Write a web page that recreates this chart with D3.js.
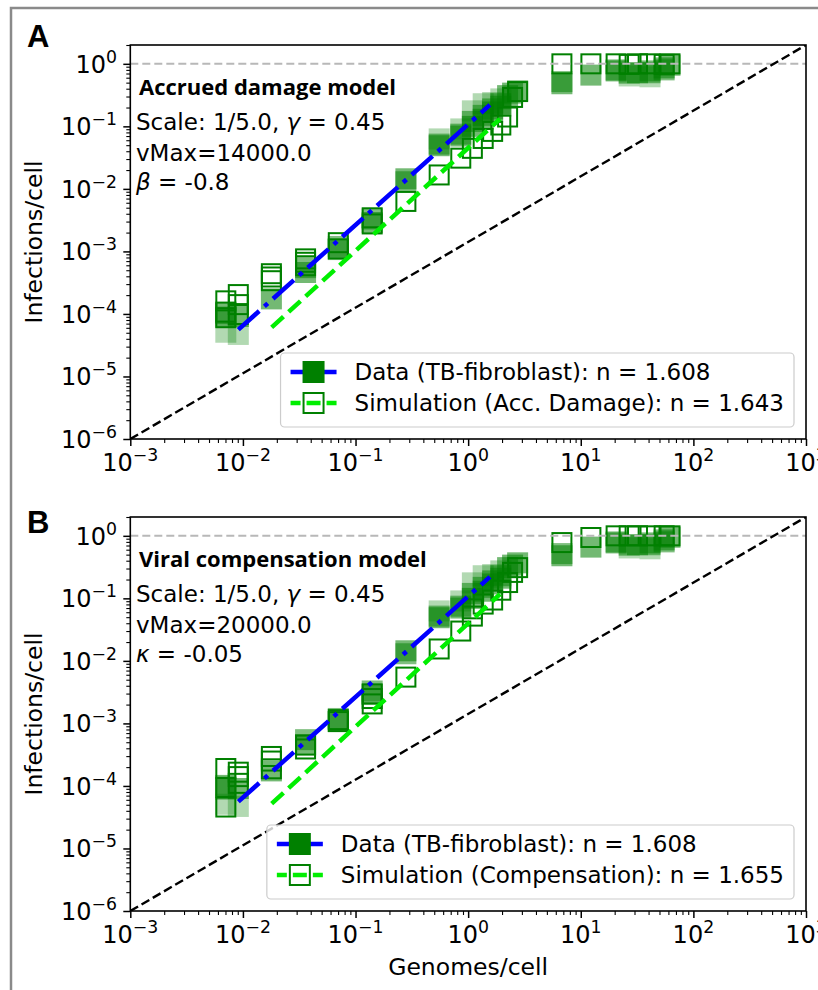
<!DOCTYPE html>
<html>
<head>
<meta charset="utf-8">
<script src="https://cdnjs.cloudflare.com/ajax/libs/d3/7.8.5/d3.min.js"></script>
<style>
body { margin: 0; background: #fff; }
svg text { font-family: "DejaVu Sans", sans-serif; fill: #000; }
</style>
</head>
<body>
<div class="chart"></div>
<script>
// genomes/cell of each column of squares
var genomes = [0.00705, 0.0091, 0.0179, 0.036, 0.0703, 0.1406, 0.28, 0.553, 0.86, 1.09, 1.36, 1.65, 1.95, 2.24, 2.48, 2.75,
               6.8, 12.3, 20.6, 26.9, 31.9, 41.2, 55, 62];

// measured infections/cell (TB-fibroblast), three replicates
var dataRep1 = [1.02e-4, 9.1e-5, 1.74e-4, 4.6e-4, 1.07e-3, 2.9e-3, 1.45e-2, 0.049, 0.07, 0.1, 0.13, 0.17, 0.21, 0.31, 0.34, 0.37,
                0.48, 0.66, 0.77, 0.71, 0.72, 0.77, 0.86, 0.95];
var dataRep2 = [8.9e-5, null, null, 5.5e-4, 1.2e-3, 3.3e-3, 1.3e-2, 0.052, 0.075, 0.12, 0.15, 0.19, 0.23, null, null, null,
                0.52, null, 0.8, null, null, 0.72, 0.8, null];
var dataRep3 = [5.1e-5, 4.7e-5, null, null, null, null, null, 0.063, 0.091, 0.177, 0.23, 0.24, 0.275, null, null, null,
                null, null, null, 0.64, null, 0.62, null, null];

// simulation, accrued damage model
var simDamage1 = [1.62e-4, 2.04e-4, 4.4e-4, 7.6e-4, 1.38e-3, 3.45e-3, 6.3e-3, 0.0167, 0.031, 0.0445, 0.064, 0.083, 0.105, 0.141, 0.29, 0.36,
                  1.0, 1.0, 1.0, 0.98, 1.0, 1.0, 0.98, 1.0];
var simDamage2 = [1.07e-4, 1.41e-4, 3.9e-4, 5.9e-4, 1.1e-3, 2.75e-3, null, null, null, null, null, null, null, null, null, null,
                  null, null, null, null, null, null, null, null];
var simDamage3 = [8.7e-5, 9.8e-5, 3.4e-4, 6.7e-4, null, null, null, null, null, null, null, null, null, null, null, null,
                  null, null, null, null, null, null, null, null];

// simulation, viral compensation model
var simComp1 = [1.9e-4, 1.66e-4, 2.96e-4, 4.5e-4, 1.15e-3, 2.97e-3, 5.5e-3, 0.0155, 0.030, 0.068, 0.081, 0.094, 0.135, 0.179, 0.26, 0.31,
                0.78, 0.94, 1.0, 1.0, 1.0, 1.0, 1.0, 1.0];
var simComp2 = [9.5e-5, 1.41e-4, 2.5e-4, 3.9e-4, 1.07e-3, 2.5e-3, null, null, null, 0.052, null, null, null, null, null, null,
                null, null, null, null, null, null, null, null];
var simComp3 = [4.6e-5, 1.1e-4, 1.88e-4, null, null, 2.05e-3, null, null, null, null, null, null, null, null, null, null,
                null, null, null, null, null, null, null, null];

// power-law fits, end points [genomes, infections]
var dataFit = [[0.0091, 5.6e-5], [1.56, 0.22]];
var damageFit = [[0.018, 6.1e-5], [1.92, 0.132]];
var compFit = [[0.018, 5.2e-5], [1.92, 0.117]];

var xTickExps = [-3, -2, -1, 0, 1, 2, 3];
var yTickExps = [-6, -5, -4, -3, -2, -1, 0];

var panels = [
    { letter: "A", letterY: 47, top: 45, title: "Accrued damage model",
      params: [["Scale: 1/5.0, ", "γ", " = 0.45"], ["vMax=14000.0", "", ""], ["", "β", " = -0.8"]],
      sims: [simDamage1, simDamage2, simDamage3], simFit: damageFit,
      legend: ["Data (TB-fibroblast): n = 1.608", "Simulation (Acc. Damage): n = 1.643"], xLabel: false },
    { letter: "B", letterY: 533, top: 517, title: "Viral compensation model",
      params: [["Scale: 1/5.0, ", "γ", " = 0.45"], ["vMax=20000.0", "", ""], ["", "κ", " = -0.05"]],
      sims: [simComp1, simComp2, simComp3], simFit: compFit,
      legend: ["Data (TB-fibroblast): n = 1.608", "Simulation (Compensation): n = 1.655"], xLabel: true }
];

var dataAlpha = [0.55, 0.5, 0.3];
var green = "#008000";
var W = 818, H = 990;
var left = 130.3, right = 806, plotH = 394;
var sq = 21;
var tickFont = 24;

var svg = d3.select("div.chart").append("svg")
    .attr("width", W)
    .attr("height", H);

// grey frame of the figure
svg.append("rect")
    .attr("x", 11).attr("y", 8)
    .attr("width", 900).attr("height", 1100)
    .attr("fill", "none")
    .attr("stroke", "#8a8a8a")
    .attr("stroke-width", 2.5);

var x = d3.scaleLog().domain([1e-3, 1e3]).range([left, right]);

panels.forEach(drawPanel);

function isDecade(v) {
    var l = Math.log10(v);
    return Math.abs(l - Math.round(l)) < 1e-9;
}

function points(rep) {
    return genomes.map((g, i) => [g, rep[i]]).filter(d => d[1] != null);
}

function powLabel(sel, e, size) {
    sel.append("tspan").text("10");
    sel.append("tspan")
        .attr("dy", -10)
        .attr("font-size", size * 0.72)
        .text(e < 0 ? "\u2212" + (-e) : e);
}

function drawPanel(p, pi) {
    var top = p.top, bottom = p.top + plotH;
    var y = d3.scaleLog().domain([1e-6, 2]).range([bottom, top]);
    var g = svg.append("g");

    var clipId = "clip" + pi;
    g.append("clipPath").attr("id", clipId)
        .append("rect")
        .attr("x", left).attr("y", top)
        .attr("width", right - left).attr("height", plotH);

    var plot = g.append("g").attr("clip-path", "url(#" + clipId + ")");

    // filled squares: data
    [dataRep1, dataRep2, dataRep3].forEach((rep, r) => {
        plot.append("g").selectAll("rect")
            .data(points(rep))
            .enter()
            .append("rect")
            .attr("x", d => x(d[0]) - sq / 2)
            .attr("y", d => y(d[1]) - sq / 2)
            .attr("width", sq).attr("height", sq)
            .attr("fill", green)
            .attr("fill-opacity", dataAlpha[r]);
    });

    // open squares: simulation
    p.sims.forEach(rep => {
        plot.append("g").selectAll("rect")
            .data(points(rep))
            .enter()
            .append("rect")
            .attr("x", d => x(d[0]) - (sq - 2) / 2)
            .attr("y", d => y(d[1]) - (sq - 2) / 2)
            .attr("width", sq - 2).attr("height", sq - 2)
            .attr("fill", "none")
            .attr("stroke", green)
            .attr("stroke-width", 2);
    });

    var line = d3.line().x(d => x(d[0])).y(d => y(d[1]));

    // y = 1 reference
    plot.append("path")
        .attr("d", line([[1e-3, 1], [1e3, 1]]))
        .attr("stroke", "#b8b8b8").attr("stroke-width", 2)
        .attr("stroke-dasharray", "8,4").attr("fill", "none");

    // diagonal of the axes
    plot.append("path")
        .attr("d", line([[x.domain()[0], y.domain()[0]], [x.domain()[1], y.domain()[1]]]))
        .attr("stroke", "#000").attr("stroke-width", 2.4)
        .attr("stroke-dasharray", "9,4").attr("fill", "none");

    plot.append("path")
        .attr("d", line(dataFit))
        .attr("stroke", "#0000ff").attr("stroke-width", 4.5)
        .attr("stroke-dasharray", "28,7,4.5,7").attr("fill", "none");

    plot.append("path")
        .attr("d", line(p.simFit))
        .attr("stroke", "#00ee00").attr("stroke-width", 4.5)
        .attr("stroke-dasharray", "16,7").attr("fill", "none");

    // axes ticks
    var minorX = x.ticks().filter(v => !isDecade(v));
    var minorY = y.ticks().filter(v => !isDecade(v));
    var majorX = xTickExps.map(e => Math.pow(10, e));
    var majorY = yTickExps.map(e => Math.pow(10, e));

    function styleAxis(sel, w) {
        sel.select(".domain").remove();
        sel.selectAll(".tick line").attr("stroke", "#000").attr("stroke-width", w);
    }

    g.append("g").attr("transform", "translate(0," + bottom + ")")
        .call(d3.axisBottom(x).tickValues(minorX).tickSize(4).tickFormat(""))
        .call(s => styleAxis(s, 1.1));
    g.append("g").attr("transform", "translate(0," + bottom + ")")
        .call(d3.axisBottom(x).tickValues(majorX).tickSize(7).tickFormat(""))
        .call(s => styleAxis(s, 1.5));
    g.append("g").attr("transform", "translate(" + left + ",0)")
        .call(d3.axisLeft(y).tickValues(minorY).tickSize(4).tickFormat(""))
        .call(s => styleAxis(s, 1.1));
    g.append("g").attr("transform", "translate(" + left + ",0)")
        .call(d3.axisLeft(y).tickValues(majorY).tickSize(7).tickFormat(""))
        .call(s => styleAxis(s, 1.5));

    g.append("rect")
        .attr("x", left).attr("y", top)
        .attr("width", right - left).attr("height", plotH)
        .attr("fill", "none").attr("stroke", "#000").attr("stroke-width", 1.6);

    xTickExps.forEach(e => {
        g.append("text")
            .attr("x", x(Math.pow(10, e)))
            .attr("y", bottom + 32)
            .attr("text-anchor", "middle")
            .attr("font-size", tickFont)
            .call(s => powLabel(s, e, tickFont));
    });
    yTickExps.forEach(e => {
        g.append("text")
            .attr("x", 117)
            .attr("y", y(Math.pow(10, e)) + 9)
            .attr("text-anchor", "end")
            .attr("font-size", tickFont)
            .call(s => powLabel(s, e, tickFont));
    });

    g.append("text")
        .attr("transform", "translate(42," + (top + plotH / 2) + ") rotate(-90)")
        .attr("text-anchor", "middle")
        .attr("font-size", 23.5)
        .text("Infections/cell");

    if (p.xLabel) {
        g.append("text")
            .attr("x", (left + right) / 2)
            .attr("y", bottom + 64)
            .attr("text-anchor", "middle")
            .attr("font-size", 23.5)
            .text("Genomes/cell");
    }

    // panel letter
    g.append("text")
        .attr("x", 27).attr("y", p.letterY)
        .style("font-family", "'Liberation Sans', Arial, sans-serif")
        .attr("font-weight", "bold")
        .attr("font-size", 31)
        .text(p.letter);

    // model annotation
    g.append("text")
        .attr("x", 139).attr("y", top + 50)
        .style("font-family", "'Open Sans', sans-serif")
        .attr("font-weight", "bold")
        .attr("font-size", 22)
        .text(p.title);

    var paramY = [85, 116, 145];
    p.params.forEach((ln, i) => {
        var t = g.append("text")
            .attr("x", 136).attr("y", top + paramY[i])
            .attr("font-size", 23);
        if (ln[0]) t.append("tspan").text(ln[0]);
        if (ln[1]) t.append("tspan").attr("font-style", "italic").text(ln[1]);
        if (ln[2]) t.append("tspan").text(ln[2]);
    });

    drawLegend(g, p, bottom);
}

function drawLegend(g, p, bottom) {
    var lg = g.append("g");
    var boxR = right - 12, boxB = bottom - 12, boxH = 74;
    var boxT = boxB - boxH;
    var rowY = [boxT + 19, boxT + 50];

    var texts = p.legend.map((t, i) => lg.append("text")
        .attr("y", rowY[i] + 8)
        .attr("font-size", 23)
        .text(t));
    var maxW = d3.max(texts, t => t.node().getComputedTextLength());
    var textX = boxR - 10 - maxW;
    texts.forEach(t => t.attr("x", textX));

    var hx1 = textX - 18, hx0 = hx1 - 46, hc = (hx0 + hx1) / 2;
    var boxL = hx0 - 10;

    lg.insert("rect", ":first-child")
        .attr("x", boxL).attr("y", boxT)
        .attr("width", boxR - boxL).attr("height", boxH)
        .attr("rx", 4)
        .attr("fill", "#fff").attr("fill-opacity", 0.8)
        .attr("stroke", "#cccccc").attr("stroke-width", 1.2);

    lg.append("line")
        .attr("x1", hx0).attr("x2", hx1)
        .attr("y1", rowY[0]).attr("y2", rowY[0])
        .attr("stroke", "#0000ff").attr("stroke-width", 4.5);
    lg.append("rect")
        .attr("x", hc - 11).attr("y", rowY[0] - 11)
        .attr("width", 22).attr("height", 22)
        .attr("fill", green);

    lg.append("line")
        .attr("x1", hx0).attr("x2", hx1)
        .attr("y1", rowY[1]).attr("y2", rowY[1])
        .attr("stroke", "#00ee00").attr("stroke-width", 4.5)
        .attr("stroke-dasharray", "10,6,14,6,10,100");
    lg.append("rect")
        .attr("x", hc - 10).attr("y", rowY[1] - 10)
        .attr("width", 20).attr("height", 20)
        .attr("fill", "none")
        .attr("stroke", green).attr("stroke-width", 2);
}
</script>
</body>
</html>
